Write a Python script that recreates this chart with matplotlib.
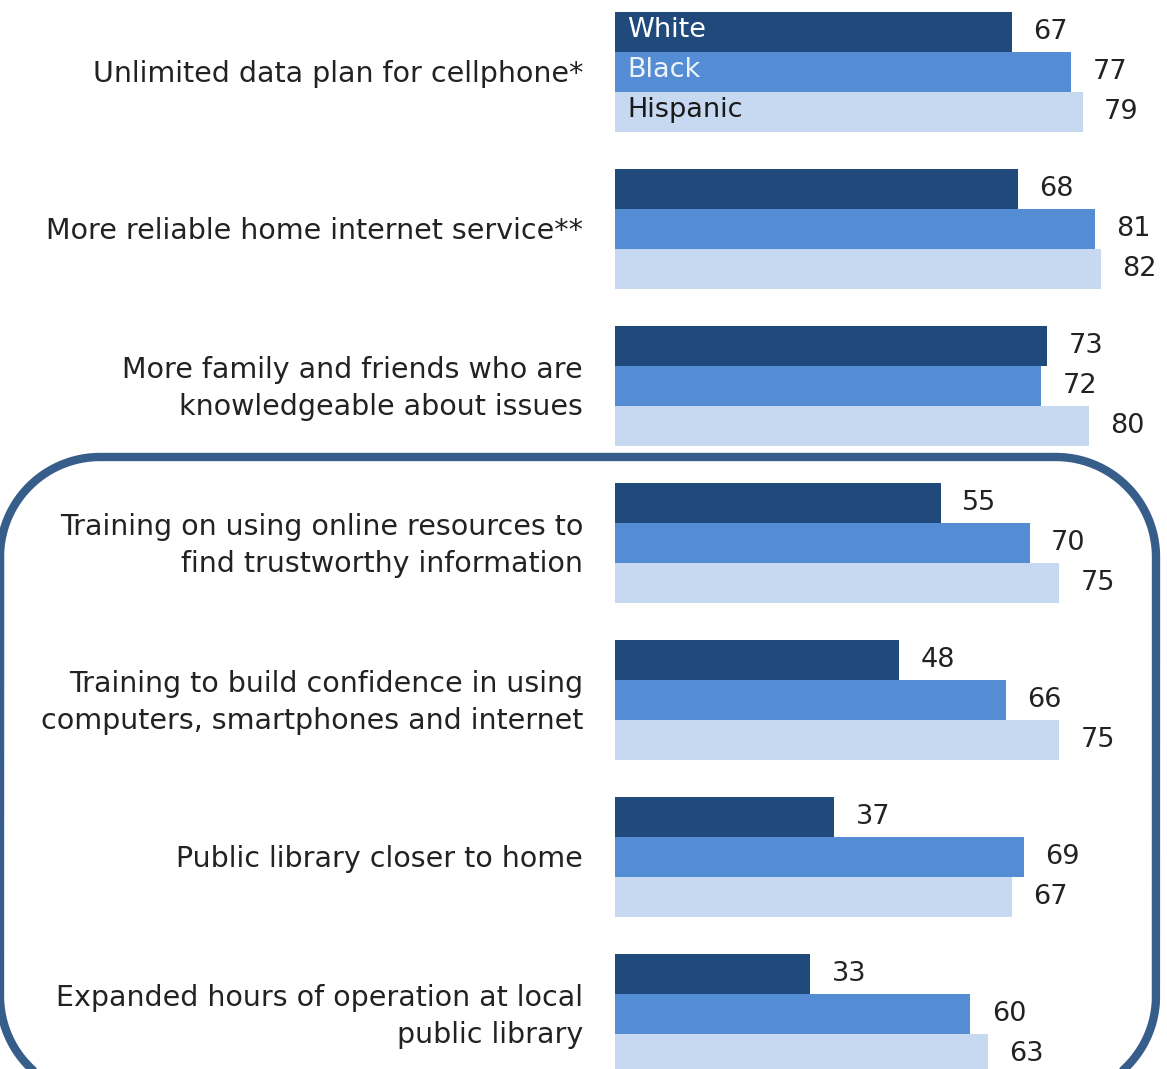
import matplotlib.pyplot as plt
import numpy as np

categories = [
    "Unlimited data plan for cellphone*",
    "More reliable home internet service**",
    "More family and friends who are\nknowledgeable about issues",
    "Training on using online resources to\nfind trustworthy information",
    "Training to build confidence in using\ncomputers, smartphones and internet",
    "Public library closer to home",
    "Expanded hours of operation at local\npublic library",
]
groups = ["White", "Black", "Hispanic"]
white = [67, 68, 73, 55, 48, 37, 33]
black = [77, 81, 72, 70, 66, 69, 60]
hispanic = [79, 82, 80, 75, 75, 67, 63]

colors = ["#204a7c", "#548dd4", "#c6d9f0"]
legend_text_colors = ["white", "#eef3fa", "#1a1a1a"]
box_color = "#375d8a"

W, H = 1167, 1069
fig = plt.figure(figsize=(W / 100, H / 100), dpi=100)

# main bar axes: x=0 sits at pixel 615, right edge of figure
ax = fig.add_axes([615 / W, 0, (W - 615) / W, 1])
pitch = 157.0
bar_h = 40 / pitch
ax.set_xlim(0, 93.2)
ax.set_ylim((H - 72) / pitch, -72 / pitch)
ax.axis("off")

y = np.arange(len(categories))
series = [white, black, hispanic]
for k, (vals, c) in enumerate(zip(series, colors)):
    yy = y + (k - 1) * bar_h
    ax.barh(yy, vals, height=bar_h, color=c, edgecolor="none")
    for yi, v in zip(yy, vals):
        ax.text(v + 3.6, yi, str(v), va="center", ha="left",
                fontsize=19.5, color="#222222")

# inline legend inside the first group
for k, (g, tc) in enumerate(zip(groups, legend_text_colors)):
    ax.text(2.1, (k - 1) * bar_h - 0.01, g, va="center", ha="left",
            fontsize=19.5, color=tc)

# category labels
for yi, lab in zip(y, categories):
    ax.text(-5.4, yi + 0.015, lab, va="center", ha="right", fontsize=20.5,
            color="#222222", linespacing=1.42)


def rounded_rect(x0, y0, x1, y1, r, n=40):
    # outline of a rectangle with circular corners (pixel coords, y down)
    t = np.linspace(0, np.pi / 2, n)
    pts = []
    for cx, cy, a0 in [(x1 - r, y0 + r, -np.pi / 2), (x1 - r, y1 - r, 0),
                       (x0 + r, y1 - r, np.pi / 2), (x0 + r, y0 + r, np.pi)]:
        pts.append(np.c_[cx + r * np.cos(a0 + t), cy + r * np.sin(a0 + t)])
    pts = np.vstack(pts + [pts[0][:1]])
    return pts[:, 0], pts[:, 1]


# highlight box drawn in pixel coordinates
ov = fig.add_axes([0, 0, 1, 1], zorder=-1)
ov.set_xlim(0, W)
ov.set_ylim(H, 0)
ov.axis("off")
bx, by = rounded_rect(0, 457, 1156, 1096, 100)
ov.plot(bx, by, color=box_color, lw=6, solid_capstyle="round")

fig.savefig("out.png", dpi=100)
